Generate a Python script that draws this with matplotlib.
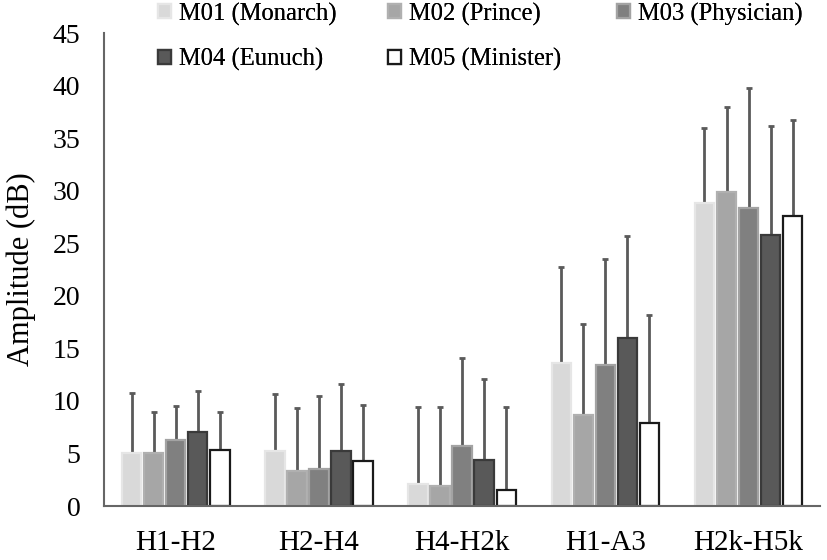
import matplotlib

matplotlib.use("Agg")
import matplotlib.pyplot as plt
import numpy as np

plt.rcParams["font.family"] = ["Liberation Serif", "DejaVu Serif"]

# 数据：各测量指标的均值与误差上沿
measures = ["H1-H2", "H2-H4", "H4-H2k", "H1-A3", "H2k-H5k"]
speakers = ["M01 (Monarch)", "M02 (Prince)", "M03 (Physician)", "M04 (Eunuch)", "M05 (Minister)"]

m01_mean = [5.0, 5.25, 2.05, 13.6, 28.8]
m02_mean = [5.0, 3.35, 1.9, 8.65, 29.85]
m03_mean = [6.25, 3.55, 5.7, 13.45, 28.4]
m04_mean = [7.0, 5.25, 4.35, 16.0, 25.8]
m05_mean = [5.3, 4.25, 1.5, 7.9, 27.6]

m01_sd = [5.8, 5.45, 7.4, 9.1, 7.2]
m02_sd = [3.9, 6.0, 7.5, 8.7, 8.15]
m03_sd = [3.3, 6.95, 8.4, 10.05, 11.4]
m04_sd = [3.95, 6.35, 7.75, 9.7, 10.4]
m05_sd = [3.6, 5.4, 7.9, 10.25, 9.1]

means = [m01_mean, m02_mean, m03_mean, m04_mean, m05_mean]
sds = [m01_sd, m02_sd, m03_sd, m04_sd, m05_sd]

faces = ["#d9d9d9", "#a6a6a6", "#808080", "#595959", "#ffffff"]
edges = ["#e6e6e6", "#b0b0b0", "#a3a3a3", "#3a3a3a", "#1a1a1a"]


def main():
    fig = plt.figure(figsize=(8.27, 5.6), dpi=100)
    ax = fig.add_axes([0.1258, 0.0964, 0.866, 0.8446])

    x = np.arange(len(measures))
    width = 0.136
    pitch = 0.154
    handles = []
    for i in range(5):
        pos = x + (i - 2) * pitch
        h = ax.bar(pos, means[i], width, color=faces[i], edgecolor=edges[i],
                   linewidth=1.6, label=speakers[i], zorder=2)
        handles.append(h)
        ax.errorbar(pos, means[i], yerr=[np.zeros(5), sds[i]], fmt="none",
                    ecolor="#5a5a5a", elinewidth=2, capsize=2.5, capthick=2, zorder=1)

    ax.set_xlim(-0.5, 4.5)
    ax.set_ylim(0, 45)
    ax.set_yticks(range(0, 46, 5))
    ax.set_xticks(x)
    ax.set_xticklabels(measures)
    ax.tick_params(axis="x", length=0, labelsize=21, pad=17)
    ax.tick_params(axis="y", length=0, labelsize=20, pad=17)
    ax.set_ylabel("Amplitude (dB)", fontsize=22, labelpad=12)

    for s in ["top", "right"]:
        ax.spines[s].set_visible(False)
    for s in ["left", "bottom"]:
        ax.spines[s].set_color("#666666")
        ax.spines[s].set_linewidth(1.5)

    # 图例分三列摆放：M01/M04, M02/M05, M03
    columns = [[0, 3], [1, 4], [2]]
    col_x = [156, 386, 615]
    for cols, px in zip(columns, col_x):
        leg = fig.legend([handles[k] for k in cols], [speakers[k] for k in cols],
                         loc="upper left", bbox_to_anchor=(px / 827, 1.0), frameon=False,
                         fontsize=17.7, handlelength=0.5, handleheight=0.5,
                         handletextpad=0.35, labelspacing=0.9,
                         borderpad=0.0, borderaxespad=0.1)
        fig.add_artist(leg)

    plt.savefig("out.png", dpi=100)


if __name__ == "__main__":
    main()
